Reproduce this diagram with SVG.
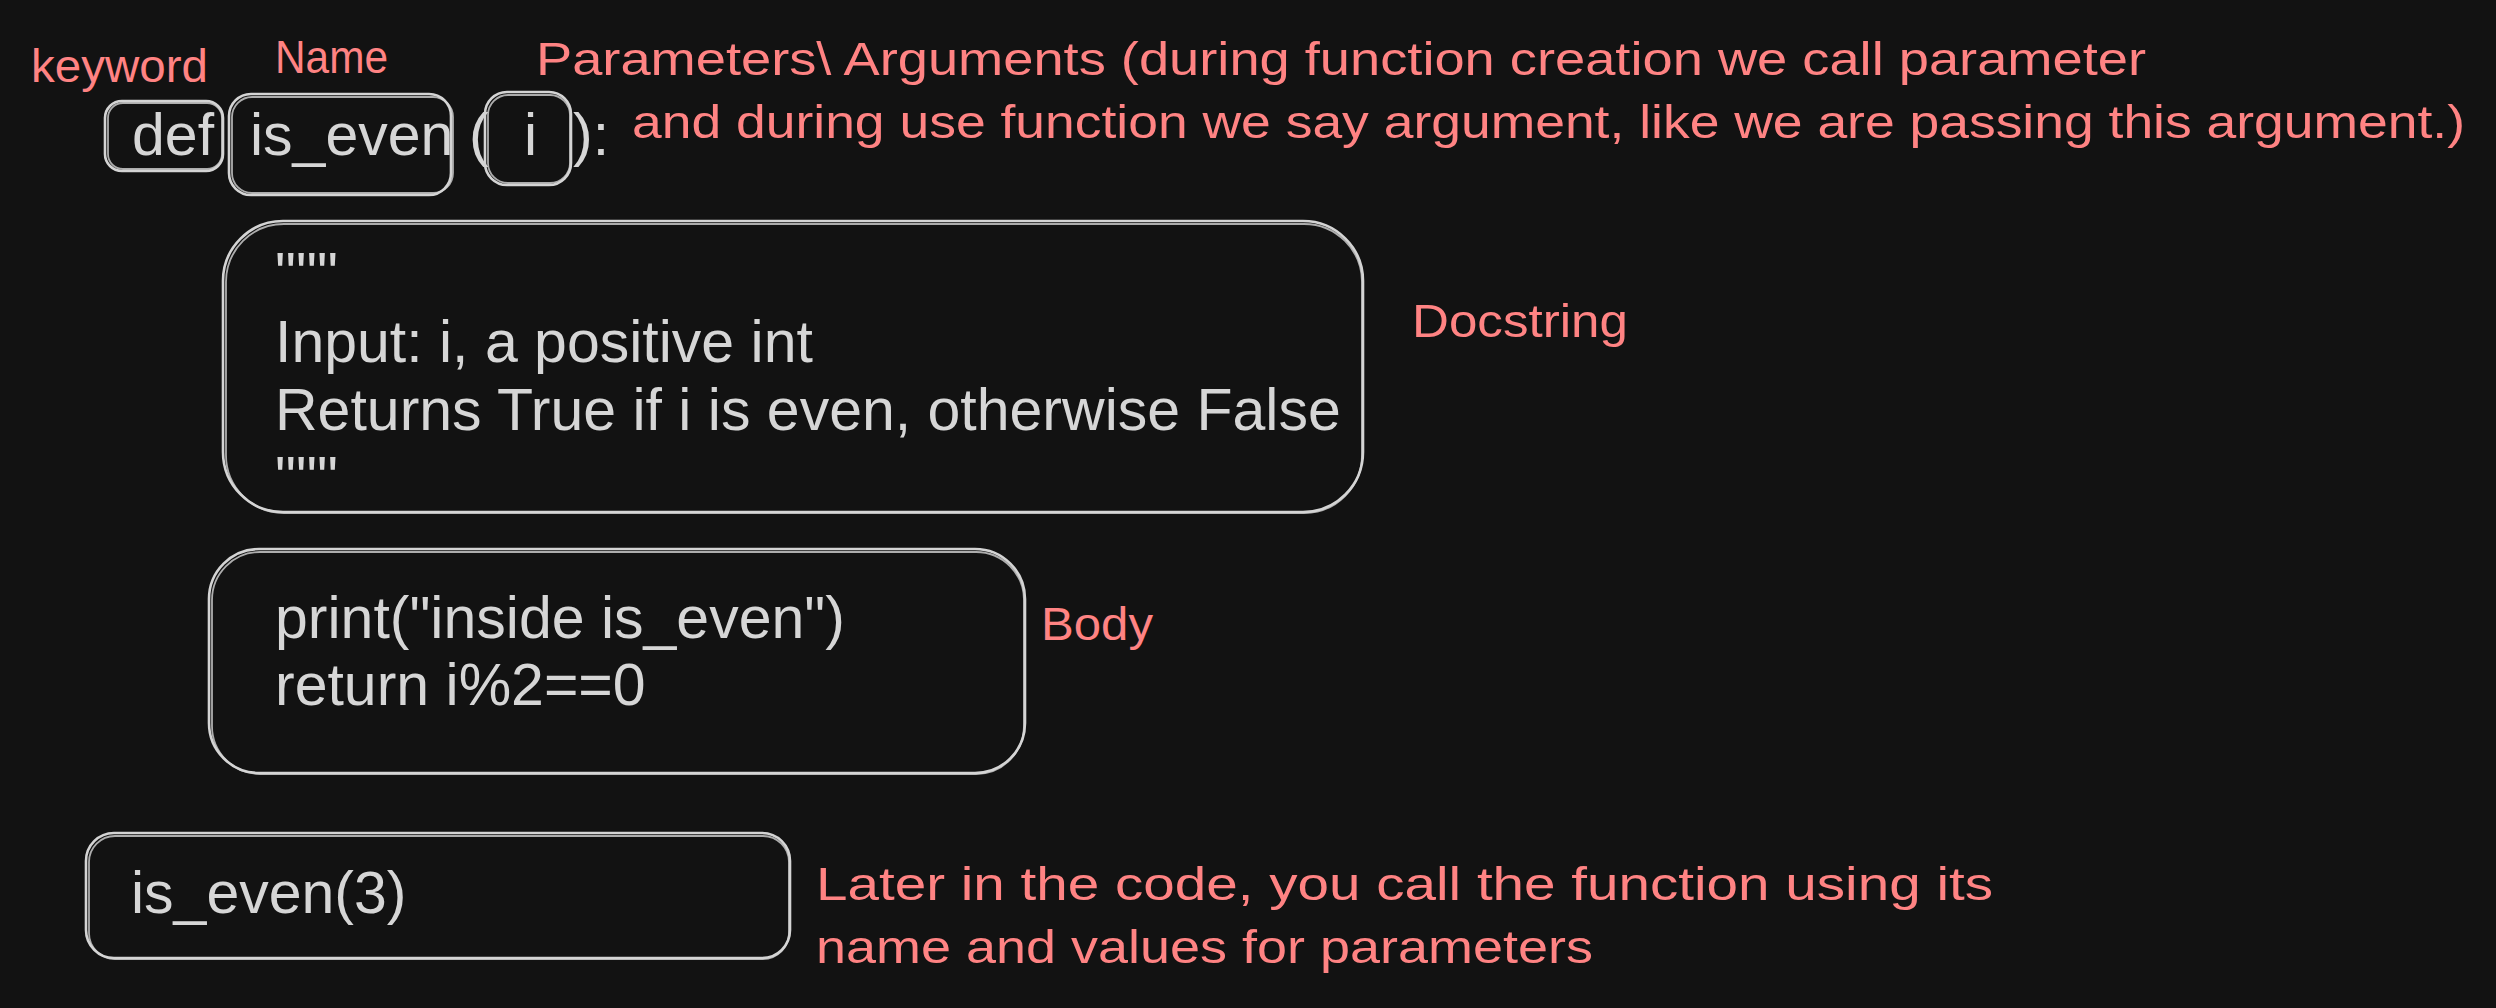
<svg xmlns="http://www.w3.org/2000/svg" width="2496" height="1008" viewBox="0 0 2496 1008">
<style>
  .bg { fill: #121212; }
  .box { fill: none; stroke: #d4d4d4; stroke-width: 2.6; stroke-linejoin: round; }
  .box2 { fill: none; stroke: #d4d4d4; stroke-width: 1.8; opacity: 0.8; }
  .code { font-family: "Liberation Sans", Arial, sans-serif; font-size: 59px; fill: #d6d6d6; }
  .note { font-family: "Liberation Sans", Arial, sans-serif; font-size: 46px; fill: #ff8383; }
</style>
<rect class="bg" x="0" y="0" width="2496" height="1008"/>

<g id="label-keyword"><text class="note" x="31" y="82" textLength="177" lengthAdjust="spacingAndGlyphs">keyword</text></g>
<g id="label-name"><text class="note" x="275" y="73" textLength="113" lengthAdjust="spacingAndGlyphs">Name</text></g>
<g id="label-params">
  <text class="note" x="536" y="75" textLength="1610" lengthAdjust="spacingAndGlyphs">Parameters\ Arguments (during function creation we call parameter</text>
  <text class="note" x="632" y="138" textLength="1833" lengthAdjust="spacingAndGlyphs">and during use function we say argument, like we are passing this argument.)</text>
</g>

<g id="node-def">
  <rect class="box" x="105" y="101" width="118" height="70" rx="17"/>
  <rect class="box2" x="108" y="103" width="114" height="66" rx="15"/>
  <text class="code" x="132" y="155">def</text>
</g>
<g id="node-name">
  <rect class="box" x="229" y="94" width="222" height="101" rx="22"/>
  <rect class="box2" x="232" y="97" width="221" height="96" rx="20"/>
  <text class="code" x="250" y="155">is_even</text>
</g>
<g id="node-param">
  <text class="code" x="469" y="155">(</text>
  <rect class="box" x="485" y="92" width="86" height="93" rx="22"/>
  <rect class="box2" x="488" y="95" width="82" height="88" rx="20"/>
  <text class="code" x="524" y="155">i</text>
  <text class="code" x="573" y="155">):</text>
</g>

<g id="node-docstring">
  <rect class="box" x="223" y="221" width="1140" height="291" rx="60"/>
  <rect class="box2" x="226" y="224" width="1136" height="289" rx="58"/>
  <text class="code" x="275" y="294">"""</text>
  <text class="code" x="275" y="362">Input: i, a positive int</text>
  <text class="code" x="275" y="430">Returns True if i is even, otherwise False</text>
  <text class="code" x="275" y="498">"""</text>
</g>
<g id="label-docstring"><text class="note" x="1412" y="337" textLength="216" lengthAdjust="spacingAndGlyphs">Docstring</text></g>

<g id="node-body">
  <rect class="box" x="209" y="549" width="816" height="224" rx="50"/>
  <rect class="box2" x="212" y="552" width="812" height="222" rx="48"/>
  <text class="code" x="275" y="638">print("inside is_even")</text>
  <text class="code" x="275" y="705">return i%2==0</text>
</g>
<g id="label-body"><text class="note" x="1041" y="640" textLength="112" lengthAdjust="spacingAndGlyphs">Body</text></g>

<g id="node-call">
  <rect class="box" x="86" y="833" width="704" height="125" rx="28"/>
  <rect class="box2" x="89" y="836" width="700" height="123" rx="26"/>
  <text class="code" x="131" y="913">is_even(3)</text>
</g>
<g id="label-call">
  <text class="note" x="816" y="900" textLength="1177" lengthAdjust="spacingAndGlyphs">Later in the code, you call the function using its</text>
  <text class="note" x="816" y="963" textLength="777" lengthAdjust="spacingAndGlyphs">name and values for parameters</text>
</g>

<g id="connectors"></g>
</svg>
